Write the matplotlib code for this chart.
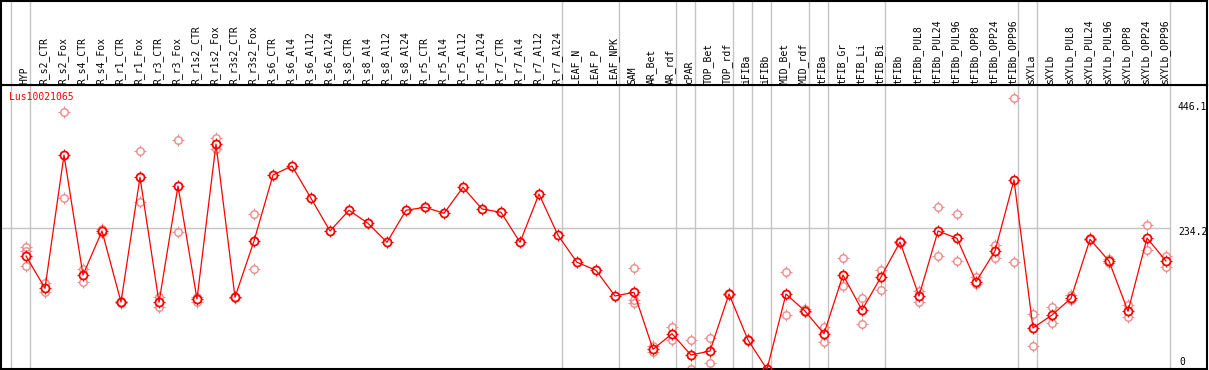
import matplotlib
matplotlib.use("Agg")
import matplotlib.pyplot as plt

W, H = 1209, 370

labels = ["HYP", "R_s2_CTR", "R_s2_Fox", "R_s4_CTR", "R_s4_Fox", "R_r1_CTR", "R_r1_Fox",
          "R_r3_CTR", "R_r3_Fox", "R_r1s2_CTR", "R_r1s2_Fox", "R_r3s2_CTR", "R_r3s2_Fox",
          "R_s6_CTR", "R_s6_Al4", "R_s6_Al12", "R_s6_Al24", "R_s8_CTR", "R_s8_Al4",
          "R_s8_Al12", "R_s8_Al24", "R_r5_CTR", "R_r5_Al4", "R_r5_Al12", "R_r5_Al24",
          "R_r7_CTR", "R_r7_Al4", "R_r7_Al12", "R_r7_Al24", "LEAF_N", "LEAF_P", "LEAF_NPK",
          "SAM", "AR_Bet", "AR_rdf", "cPAR", "TOP_Bet", "TOP_rdf", "iFIBa", "iFIBb",
          "MID_Bet", "MID_rdf", "tFIBa", "tFIB_Gr", "tFIB_Li", "tFIB_Bi", "tFIBb",
          "tFIBb_PUL8", "tFIBb_PUL24", "tFIBb_PUL96", "tFIBb_OPP8", "tFIBb_OPP24",
          "tFIBb_OPP96", "sXYLa", "sXYLb", "sXYLb_PUL8", "sXYLb_PUL24", "sXYLb_PUL96",
          "sXYLb_OPP8", "sXYLb_OPP24", "sXYLb_OPP96"]

means = [189.1, 136.4, 353.7, 158.1, 229.8, 114.1, 317.4, 113.6, 303.2, 119.0, 371.6,
         121.8, 213.5, 321.1, 335.8, 283.1, 229.8, 263.6, 242.4, 211.4, 263.6, 268.5,
         258.7, 301.1, 265.7, 260.3, 211.4, 290.1, 222.8, 178.8, 165.8, 123.9, 129.9,
         37.0, 62.4, 27.7, 34.2, 127.1, 52.2, 4.4, 127.1, 99.4, 62.4, 158.1, 101.1,
         154.9, 211.9, 123.9, 229.8, 217.9, 147.2, 197.2, 313.0, 71.7, 92.9, 120.1,
         216.3, 180.9, 98.9, 218.4, 180.9]

replicates = [[203.8, 197.7, 172.8], [144.6, 130.9], [423.8, 283.1], [167.9, 147.2],
              [233.6, 226.0], [115.5, 112.5], [359.7, 276.6], [122.8, 105.5],
              [377.7, 227.7], [122.8, 114.6], [380.9, 363.0], [123.0, 120.5],
              [257.0, 167.9], [], [], [], [], [], [], [], [], [], [], [], [], [], [], [],
              [], [], [], [], [169.5, 117.4, 113.0], [42.4, 33.0], [72.9, 52.2],
              [52.2, 4.4], [54.9, 14.2], [128.5, 125.7], [53.5, 51.0], [5.0, 3.8],
              [162.5, 92.4], [102.0, 97.0], [72.9, 48.4], [185.8, 140.2], [120.1, 77.7],
              [166.3, 133.2], [214.0, 209.5], [132.5, 113.6], [268.5, 189.1],
              [257.0, 180.9], [155.3, 143.0], [207.0, 185.3], [446.1, 178.8],
              [94.5, 41.9], [106.4, 79.4], [124.7, 117.7], [218.0, 214.5],
              [184.0, 178.0], [109.2, 90.1], [239.1, 198.9], [189.6, 171.6]]

group_bounds = [-1, 0, 28, 31, 34, 35, 37, 38, 39, 41, 42, 45, 52, 53, 60]
gene = "Lus10021065"
ymax_label, ymid_label, ymin_label = 446.1, 234.2, 0

RED = "#ff0000"
PINK = "#ec8c8c"
GRID = "#c4c4c4"
FONT = "DejaVu Sans Mono"

fig = plt.figure(figsize=(W / 100, H / 100), dpi=100)

x0_px, step_px = 26.0, 19.0
left_px, right_px = 1.0, 1207.0
xlim = ((left_px - x0_px) / step_px, (right_px - x0_px) / step_px)
top_plot, bot_plot = 85.3, 368.7
zero_px, scale = 372.0, 0.6135
ylim = ((zero_px - bot_plot) / scale, (zero_px - top_plot) / scale)

ax = fig.add_axes([left_px / W, (H - bot_plot) / H, (right_px - left_px) / W,
                   (bot_plot - top_plot) / H])
hx = fig.add_axes([left_px / W, (H - top_plot) / H, (right_px - left_px) / W,
                   (top_plot - 0.8) / H])

for a in (ax, hx):
    a.set_xlim(*xlim)
    a.set_xticks([])
    a.set_yticks([])
    for s in a.spines.values():
        s.set_color("black")
        s.set_linewidth(1.5)
    for g in group_bounds:
        a.axvline(g + 0.23, color=GRID, lw=1.0, zorder=0)
ax.set_ylim(*ylim)
hx.set_ylim(0, 1)

ax.plot([xlim[0], 60.23], [ymid_label, ymid_label], color=GRID, lw=1.0, zorder=0)


def sun(xv, yv, color, ms, mew, z):
    # small tick stubs sticking out of a hollow circle
    ax.plot(xv, yv, linestyle="none", marker="+", ms=ms + 2.6, mec=color, mew=0.8,
            zorder=z)
    ax.plot(xv, yv, linestyle="none", marker="o", ms=ms - 0.6, mfc="white",
            mec="white", mew=0, zorder=z + 0.1)


xs = list(range(len(labels)))
for i, reps in enumerate(replicates):
    if reps:
        sun([i] * len(reps), reps, PINK, 5.4, 1.0, 1)
        ax.plot([i] * len(reps), reps, linestyle="none", marker="o", ms=5.4,
                mfc="none", mec=PINK, mew=1.0, zorder=1.5)

sun(xs, means, RED, 5.8, 1.3, 2)
ax.plot(xs, means, color=RED, lw=0.9, zorder=3)
ax.plot(xs, means, linestyle="none", marker="o", ms=5.8, mfc="none", mec=RED,
        mew=1.3, zorder=4)

for i, lab in enumerate(labels):
    hx.text(i - 0.08, 1.8 / 84.5, lab, rotation=90, ha="center", va="bottom",
            fontsize=7, family=FONT, color="black")

fig.text(9 / W, 1 - 97 / H, gene, color=RED, fontsize=7, family=FONT,
         ha="left", va="center")
fig.text(1178 / W, 1 - 107.5 / H, f"{ymax_label}", fontsize=7, family=FONT,
         ha="left", va="center")
fig.text(1178 / W, 1 - 232 / H, f"{ymid_label}", fontsize=7, family=FONT,
         ha="left", va="center")
fig.text(1179 / W, 1 - 362 / H, f"{ymin_label}", fontsize=7, family=FONT,
         ha="left", va="center")

fig.savefig("out.png", dpi=100)
